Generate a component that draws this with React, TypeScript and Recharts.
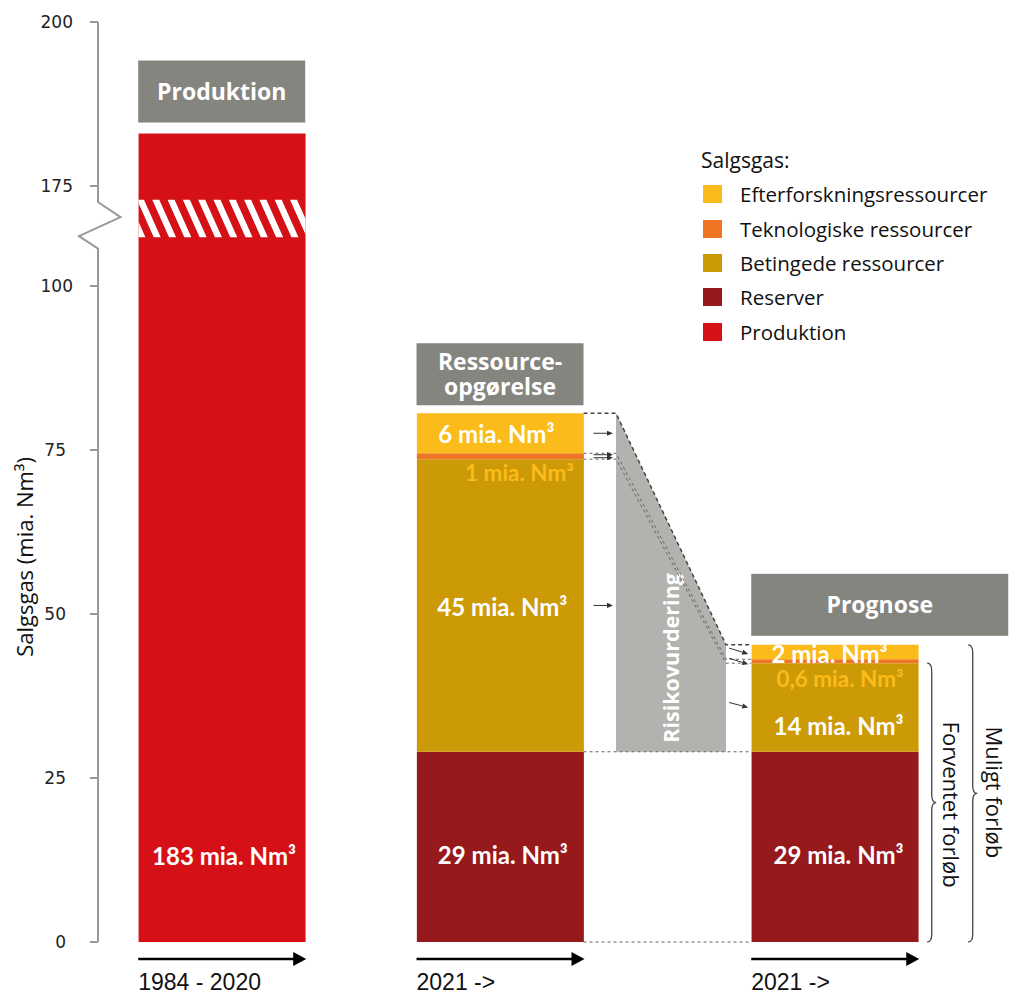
import React from 'react';
import { BarChart, Bar, XAxis, YAxis, ReferenceArea, LabelList, Legend } from 'recharts';

// ---------------- data ----------------
const columns = ['1984 - 2020', '2021 ->', '2021 ->'];
const headers = ['Produktion', 'Ressource-|opgørelse', 'Prognose'];
const produktion = [183, 0, 0];
const reserver = [0, 29, 29];
const betingede = [0, 44.6, 13.5];
const teknologiske = [0, 0.9, 0.6];
const efterforskning = [0, 6.1, 2.2];
const produktionLabels = ['183 mia. Nm³', '', ''];
const reserverLabels = ['', '29 mia. Nm³', '29 mia. Nm³'];
const betingedeLabels = ['', '45 mia. Nm³', '14 mia. Nm³'];
const teknologiskeLabels = ['', '1 mia. Nm³', '0,6 mia. Nm³'];
const efterforskningLabels = ['', '6 mia. Nm³', '2 mia. Nm³'];
const yTickValues = [0, 25, 50, 75, 100, 175, 200];
const legendTitle = 'Salgsgas:';
const yAxisTitle = 'Salgsgas (mia. Nm³)';
const riskLabel = 'Risikovurdering';
const expectedLabel = 'Forventet forløb';
const possibleLabel = 'Muligt forløb';

// ---------------- colours / layout ----------------
const C_PROD = '#D51017';
const C_RES = '#96191C';
const C_BET = '#CD9A07';
const C_TEK = '#EE7524';
const C_EFT = '#FBBB1A';
const C_HEAD = '#858580';
const C_RISK = '#B2B3AE';

const legendItems = [
  { name: 'Efterforskningsressourcer', color: C_EFT },
  { name: 'Teknologiske ressourcer', color: C_TEK },
  { name: 'Betingede ressourcer', color: C_BET },
  { name: 'Reserver', color: C_RES },
  { name: 'Produktion', color: C_PROD },
];

const CHART_W = 1009;
const CHART_H = 994;
const Y_AXIS_W = 98;
const X_AXIS_H = 52;
const X_MAX = 100;
const X_POS = [13.58, 44.13, 80.87];
const RISK_X = [56.86, 68.94];
const BAR_W = 167;
const HEADER_W = [167, 167, 257];
const HEADER_H = 62;
const HEADER_GAP = [11, 8, 9];

// broken axis: 100..175 is compressed into BREAK_SPAN display units
const BREAK_SPAN = 15.24;
const toDisplay = (v: number) =>
  v <= 100 ? v : v >= 175 ? v - 175 + 100 + BREAK_SPAN : 100 + ((v - 100) / 75) * BREAK_SPAN;
const Y_TOP = toDisplay(200);
const HATCH_BAND = [107.4, 113.2];
const AXIS_ZIGZAG = [112.8, 110.5, 107.6, 105.7];
const Y_TITLE_V = 58.7;

const rows = columns.map((c, i) => ({
  name: c,
  col: i,
  pos: X_POS[i],
  produktion: toDisplay(produktion[i]),
  reserver: reserver[i],
  betingede: betingede[i],
  teknologiske: teknologiske[i],
  efterforskning: efterforskning[i],
}));

const VALUE_FONT = "Lato, 'Open Sans', sans-serif";
const SANS = "'Open Sans', 'Noto Sans', sans-serif";

// ---------------- labels ----------------
type LabelCfg = {
  labels: string[];
  mode: 'center' | 'fromBottom' | 'belowRight';
  dy: number[];
  dx: number[];
  size: number;
  color: string;
};

const makeLabel = (cfg: LabelCfg) => (props: any) => {
  const vb = props.viewBox && props.viewBox.width != null ? props.viewBox : props;
  const x = Number(vb.x), y = Number(vb.y), width = Number(vb.width), height = Number(vb.height);
  const i = Number(props.value);
  if (!(i >= 0 && i < cfg.labels.length)) return null;
  const t = cfg.labels[i];
  if (!t) return null;
  let cx = x + width / 2 + cfg.dx[i];
  let cy = y + height / 2 + cfg.dy[i];
  let anchor: any = 'middle';
  if (cfg.mode === 'fromBottom') cy = y + height - cfg.dy[i];
  if (cfg.mode === 'belowRight') {
    cx = x + width - cfg.dx[i];
    cy = y + height + cfg.dy[i];
    anchor = 'end';
  }
  return (
    <text x={cx} y={cy} textAnchor={anchor} dominantBaseline="central" fontFamily={VALUE_FONT}
      fontWeight={700} fontSize={cfg.size} fill={cfg.color}>{t}</text>
  );
};

// ---------------- custom pieces ----------------
function ProduktionShape(p: any) {
  const { x, y, width, height, fill } = p;
  if (!height || height <= 0) return null;
  const v = rows[0].produktion;
  const k = height / v;
  const yB = (d: number) => y + height - d * k;
  const top = yB(HATCH_BAND[1]);
  const bot = yB(HATCH_BAND[0]);
  const step = 15.3, sw = 7, slant = 17;
  const d: string[] = [];
  for (let sx = x - slant - step; sx < x + width + step; sx += step) {
    d.push(`M${sx},${top} L${sx + sw},${top} L${sx + sw + slant},${bot} L${sx + slant},${bot} Z`);
  }
  return (
    <g>
      <rect x={x} y={y} width={width} height={height} fill={fill} />
      <clipPath id="hatchClip">
        <rect x={x} y={top} width={width} height={bot - top} />
      </clipPath>
      <path d={d.join(' ')} fill="#fff" clipPath="url(#hatchClip)" />
    </g>
  );
}

function YTick(props: any) {
  const { x, y, payload } = props;
  const ticksD = yTickValues.map(toDisplay);
  let idx = ticksD.findIndex((t) => Math.abs(t - payload.value) < 0.01);
  if (idx < 0) return null;
  const real = yTickValues[idx];
  const endX = real >= 100 ? x - 15 : x - 22;
  return (
    <text x={endX} y={y} textAnchor="end" dominantBaseline="central" fontFamily="'DejaVu Sans', sans-serif"
      fontSize={17} fill="#222">{real}</text>
  );
}

function XTick(props: any) {
  const { x, y, payload } = props;
  const idx = X_POS.findIndex((p) => Math.abs(p - payload.value) < 0.01);
  if (idx < 0) return null;
  const half = BAR_W / 2;
  const ay = y + 15;
  const left = x - half;
  const right = x + half + 1;
  return (
    <g>
      <line x1={left} y1={ay} x2={right - 10} y2={ay} stroke="#000" strokeWidth={2.6} />
      <polygon points={`${right},${ay} ${right - 13},${ay - 7} ${right - 13},${ay + 7}`} fill="#000" />
      <text x={left} y={y + 46} fontFamily="'Liberation Sans', Arial, sans-serif" fontSize={23} fill="#111">
        {columns[idx]}
      </text>
    </g>
  );
}

function arrow(key: string, x1: number, y1: number, x2: number, y2: number) {
  const ang = Math.atan2(y2 - y1, x2 - x1);
  const L = 6, Wd = 2.6;
  const bx = x2 - L * Math.cos(ang), by = y2 - L * Math.sin(ang);
  const px = -Math.sin(ang) * Wd, py = Math.cos(ang) * Wd;
  return (
    <g key={key}>
      <line x1={x1} y1={y1} x2={bx} y2={by} stroke="#333" strokeWidth={1} />
      <polygon points={`${x2},${y2} ${bx + px},${by + py} ${bx - px},${by - py}`} fill="#333" />
    </g>
  );
}

function brace(x0: number, w: number, top: number, bottom: number) {
  const mid = (top + bottom) / 2;
  const r = 8;
  const xm = x0 + w / 2;
  return `M${x0},${top} Q${xm},${top} ${xm},${top + r} L${xm},${mid - r} Q${xm},${mid} ${x0 + w},${mid} ` +
    `Q${xm},${mid} ${xm},${mid + r} L${xm},${bottom - r} Q${xm},${bottom} ${x0},${bottom}`;
}

function Overlay(p: any) {
  const px = Number(p.x), py = Number(p.y), pw = Number(p.width), ph = Number(p.height);
  const X = (u: number) => px + (u / X_MAX) * pw;
  const Y = (v: number) => py + ph - (v / Y_TOP) * ph;
  const half = BAR_W / 2;
  const lvl = columns.map((_, i) => {
    const r = reserver[i];
    const b = r + betingede[i];
    const t = b + teknologiske[i];
    const e = t + efterforskning[i];
    return { r, b, t, e, total: toDisplay(produktion[i] + e) };
  });
  const l2 = lvl[1], l3 = lvl[2];
  const bar2R = X(X_POS[1]) + half;
  const bar3L = X(X_POS[2]) - half;
  const bar3R = X(X_POS[2]) + half;
  const rL = X(RISK_X[0]);
  const rR = X(RISK_X[1]);
  const ax = X(0);

  const conn = (a: number, b: number) =>
    `M${bar2R},${Y(a)} H${rL} L${rR},${Y(b)} H${bar3L}`;

  const arrows = [
    arrow('a1', bar2R + 10, Y((l2.t + l2.e) / 2), rL - 3, Y((l2.t + l2.e) / 2)),
    arrow('a2', bar2R + 10, Y((l2.b + l2.t) / 2) - 1.5, rL - 3, Y((l2.b + l2.t) / 2) - 1.5),
    arrow('a3', bar2R + 10, Y((l2.b + l2.t) / 2) + 1.5, rL - 3, Y((l2.b + l2.t) / 2) + 1.5),
    arrow('a4', bar2R + 10, Y((l2.r + l2.b) / 2), rL - 3, Y((l2.r + l2.b) / 2)),
    arrow('b1', rR + 3, Y((l3.t + l3.e) / 2) - 4, bar3L - 3, Y((l3.t + l3.e) / 2) + 2),
    arrow('b2', rR + 3, Y((l3.b + l3.t) / 2) - 3, bar3L - 3, Y((l3.b + l3.t) / 2) + 3),
    arrow('b3', rR + 3, Y((l3.r + l3.b) / 2) - 5, bar3L - 3, Y((l3.r + l3.b) / 2)),
  ];

  const fBx = bar3R + 9;
  const mBx = bar3R + 50;

  return (
    <g>
      {/* y axis line with break */}
      <path
        d={`M${ax},${Y(Y_TOP)} V${Y(AXIS_ZIGZAG[0])} L${ax + 22.5},${Y(AXIS_ZIGZAG[1])} L${ax - 19},${Y(AXIS_ZIGZAG[2])} L${ax},${Y(AXIS_ZIGZAG[3])} V${Y(0)}`}
        fill="none" stroke="#999" strokeWidth={2}
      />
      <text transform={`translate(24,${Y(Y_TITLE_V)}) rotate(-90)`} textAnchor="middle" dominantBaseline="central"
        fontFamily={SANS} fontSize={22} fill="#111">{yAxisTitle}</text>

      {/* header boxes */}
      {headers.map((h, i) => {
        const bx = X(X_POS[i]) - half;
        const bottom = Y(lvl[i].total) - HEADER_GAP[i];
        const top = bottom - HEADER_H;
        const lines = h.split('|');
        const cy = top + HEADER_H / 2 - 1;
        return (
          <g key={'h' + i}>
            <rect x={bx} y={top} width={HEADER_W[i]} height={HEADER_H} fill={C_HEAD} />
            {lines.map((ln, j) => (
              <text key={j} x={bx + HEADER_W[i] / 2} y={cy + (j - (lines.length - 1) / 2) * 25}
                textAnchor="middle" dominantBaseline="central" fontFamily={SANS} fontWeight={700}
                fontSize={23} fill="#fff">{ln}</text>
            ))}
          </g>
        );
      })}

      {/* risk band */}
      <polygon
        points={`${rL},${Y(l2.e)} ${rR},${Y(l3.e)} ${rR},${Y(l3.r)} ${rL},${Y(l2.r)}`}
        fill={C_RISK}
      />
      <text transform={`translate(${(rL + rR) / 2 - 1},${Y(l2.r) - 9}) rotate(-90)`} textAnchor="start"
        dominantBaseline="central" fontFamily={SANS} fontWeight={700} fontSize={21.5} fill="#fff">{riskLabel}</text>

      {/* connectors */}
      <path d={conn(l2.t, l3.t)} fill="none" stroke="#666" strokeWidth={1} strokeDasharray="3 3" />
      <path d={conn(l2.b, l3.b)} fill="none" stroke="#666" strokeWidth={1} strokeDasharray="3 3" />
      <path d={conn(l2.e, l3.e)} fill="none" stroke="#444" strokeWidth={1.5} strokeDasharray="4 3" />
      <path d={`M${bar2R},${Y(l2.r)} H${bar3L}`} fill="none" stroke="#666" strokeWidth={1.2} strokeDasharray="3 3" />
      <path d={`M${bar2R},${Y(0)} H${bar3L}`} fill="none" stroke="#666" strokeWidth={1.2} strokeDasharray="3 3" />
      {arrows}

      {/* braces */}
      <path d={brace(fBx, 9, Y(l3.b), Y(0))} fill="none" stroke="#444" strokeWidth={1.3} />
      <path d={brace(mBx, 9, Y(l3.e), Y(0))} fill="none" stroke="#444" strokeWidth={1.3} />
      <text transform={`translate(${fBx + 25},${(Y(l3.b) + Y(0)) / 2 + 2}) rotate(90)`} textAnchor="middle"
        dominantBaseline="central" fontFamily={SANS} fontSize={22} fill="#111">{expectedLabel}</text>
      <text transform={`translate(${mBx + 27},${(Y(l3.e) + Y(0)) / 2 - 1}) rotate(90)`} textAnchor="middle"
        dominantBaseline="central" fontFamily={SANS} fontSize={22} fill="#111">{possibleLabel}</text>
    </g>
  );
}

function LegendBox() {
  return (
    <div style={{ fontFamily: SANS, color: '#111' }}>
      <div style={{ height: 34.3, lineHeight: '34.3px', fontSize: 21 }}>{legendTitle}</div>
      {legendItems.map((it) => (
        <div key={it.name} style={{ height: 34.3, display: 'flex', alignItems: 'center' }}>
          <span style={{ display: 'inline-block', width: 19, height: 18, background: it.color, marginLeft: 2, marginRight: 18 }} />
          <span style={{ fontSize: 20.5 }}>{it.name}</span>
        </div>
      ))}
    </div>
  );
}

export default function App() {
  return (
    <div style={{ position: 'absolute', left: 0, top: 0, width: CHART_W, height: CHART_H, background: '#fff' }}>
      <BarChart width={CHART_W} height={CHART_H} data={rows} margin={{ top: 22, right: 0, bottom: 0, left: 0 }}>
        <XAxis type="number" dataKey="pos" domain={[0, X_MAX]} ticks={X_POS} interval={0} height={X_AXIS_H}
          axisLine={false} tickLine={false} tickSize={0} tick={<XTick />} allowDataOverflow />
        <YAxis type="number" domain={[0, Y_TOP]} ticks={yTickValues.map(toDisplay)} interval={0} width={Y_AXIS_W}
          axisLine={false} tickLine={{ stroke: '#999', strokeWidth: 2 }} tickSize={8} tick={<YTick />} allowDataOverflow />
        <ReferenceArea x1={0} x2={X_MAX} y1={0} y2={Y_TOP} ifOverflow="visible" fill="none"
          shape={(p: any) => <Overlay {...p} />} />
        <Bar dataKey="produktion" stackId="a" fill={C_PROD} barSize={BAR_W} isAnimationActive={false}
          shape={(p: any) => <ProduktionShape {...p} />}>
          <LabelList dataKey="col" content={makeLabel({ labels: produktionLabels, mode: 'fromBottom', dy: [87, 0, 0], dx: [2, 0, 0], size: 24, color: '#fff' })} />
        </Bar>
        <Bar dataKey="reserver" stackId="a" fill={C_RES} barSize={BAR_W} isAnimationActive={false}>
          <LabelList dataKey="col" content={makeLabel({ labels: reserverLabels, mode: 'center', dy: [0, 8, 8], dx: [0, 2.5, 3.5], size: 24, color: '#fff' })} />
        </Bar>
        <Bar dataKey="betingede" stackId="a" fill={C_BET} barSize={BAR_W} isAnimationActive={false}>
          <LabelList dataKey="col" content={makeLabel({ labels: betingedeLabels, mode: 'center', dy: [0, 0.6, 18.5], dx: [0, 2, 3.5], size: 24, color: '#fff' })} />
        </Bar>
        <Bar dataKey="teknologiske" stackId="a" fill={C_TEK} barSize={BAR_W} isAnimationActive={false}>
          <LabelList dataKey="col" content={makeLabel({ labels: teknologiskeLabels, mode: 'belowRight', dy: [0, 13.5, 15], dx: [0, 10, 15], size: 22.5, color: C_EFT })} />
        </Bar>
        <Bar dataKey="efterforskning" stackId="a" fill={C_EFT} barSize={BAR_W} isAnimationActive={false}>
          <LabelList dataKey="col" content={makeLabel({ labels: efterforskningLabels, mode: 'center', dy: [0, 0.6, 1.5], dx: [0, -4, -5.5], size: 24, color: '#fff' })} />
        </Bar>
        <Legend layout="vertical" align="center" verticalAlign="middle"
          wrapperStyle={{ left: 701, top: 143, width: 308, height: 210 }} content={() => <LegendBox />} />
      </BarChart>
    </div>
  );
}
